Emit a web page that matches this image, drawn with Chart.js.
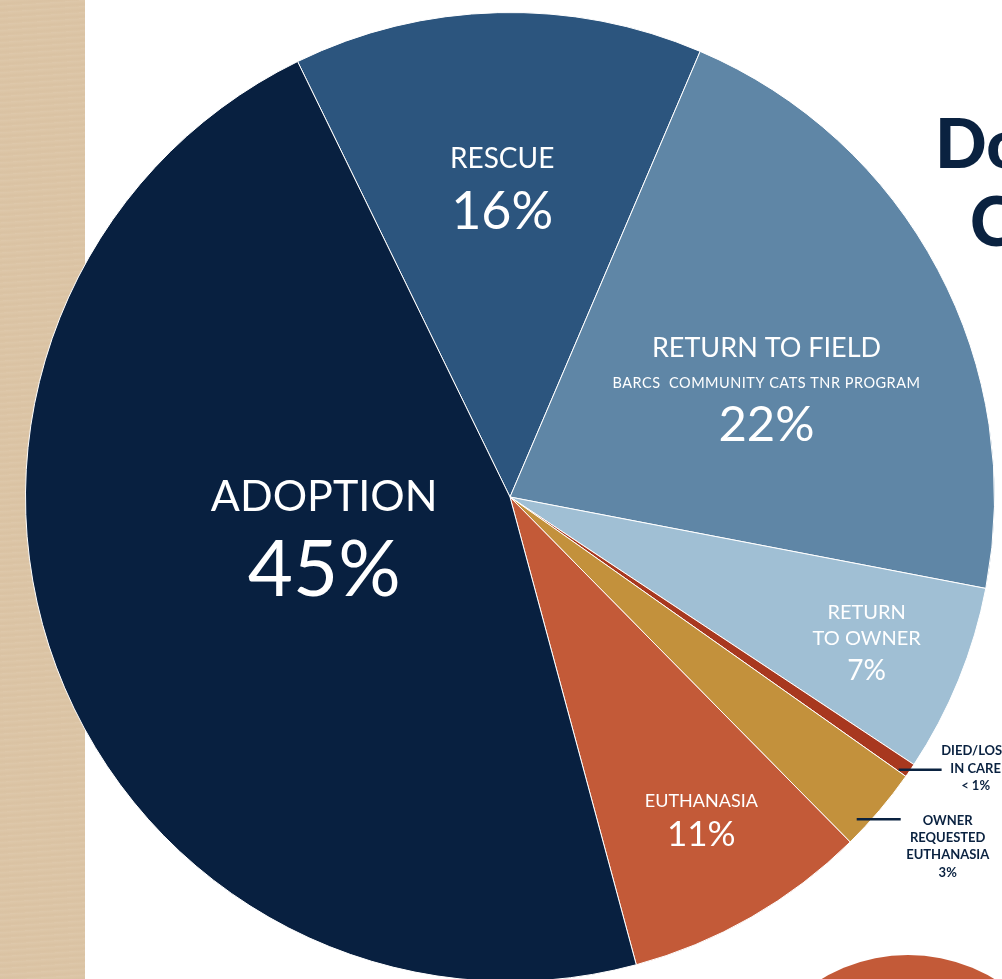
<!DOCTYPE html>
<html>
<head>
<meta charset="utf-8">
<script src="https://cdn.jsdelivr.net/npm/chart.js@4"></script>
<style>
  html, body { margin:0; padding:0; width:1002px; height:979px; overflow:hidden; background:#ffffff; }
  #wrap { position:absolute; left:0; top:0; width:1002px; height:1000px; }
  #board { position:absolute; left:0; top:0; width:85px; height:979px; background:#dcc5a6;
    background-image: repeating-linear-gradient(176deg, rgba(255,255,255,0.05) 0px, rgba(255,255,255,0.0) 2px, rgba(160,120,80,0.04) 4px, rgba(255,255,255,0.0) 6px); }
  .title { position:absolute; font-family:"Lato", sans-serif; font-weight:900; color:#0a2240; font-size:68px; line-height:1; white-space:nowrap; }
  #dot { position:absolute; left:740px; top:955px; width:336px; height:336px; border-radius:50%; background:#c35a38; }
</style>
</head>
<body>
<div id="board"></div>
<div class="title" style="left:935px; top:108px;">Domestic</div>
<div class="title" style="left:970px; top:186px;">Cat Outcomes</div>
<div id="dot"></div>
<div id="wrap"><canvas id="c" width="1002" height="1000"></canvas></div>
<script>
// Slice order is clockwise starting from the top-left RESCUE boundary
const categories = ["RESCUE", "RETURN TO FIELD", "RETURN TO OWNER", "DIED/LOST IN CARE", "OWNER REQUESTED EUTHANASIA", "EUTHANASIA", "ADOPTION"];
const values = [13.64, 21.60, 6.29, 0.47, 2.83, 8.19, 46.97];
const printedLabels = ["16%", "22%", "7%", "< 1%", "3%", "11%", "45%"];
const colors = ["#2c557e", "#5f86a6", "#a0bfd4", "#a8381f", "#c3913c", "#c35a38", "#082040"];

const labelPlugin = {
  id: 'sliceLabels',
  afterDatasetsDraw(chart) {
    const ctx = chart.ctx;
    const meta = chart.getDatasetMeta(0);
    const F = '"Lato", sans-serif';
    function pos(i, shiftDeg, frac) {
      const a = meta.data[i];
      const mid = (a.startAngle + a.endAngle) / 2 + shiftDeg * Math.PI / 180;
      return { x: a.x + Math.cos(mid) * a.outerRadius * frac, y: a.y + Math.sin(mid) * a.outerRadius * frac, a };
    }
    function txt(s, x, y, size, weight, color, spacing) {
      ctx.font = weight + ' ' + size + 'px ' + F;
      ctx.letterSpacing = (spacing || 0) + 'px';
      ctx.fillStyle = color;
      ctx.textAlign = 'center';
      ctx.textBaseline = 'middle';
      ctx.fillText(s, x, y);
      ctx.letterSpacing = '0px';
    }
    ctx.save();
    const W = '#ffffff';
    // RESCUE
    let p = pos(0, 0, 0.643);
    txt(categories[0], p.x, p.y - 27, 28, 'normal', W);
    txt(printedLabels[0], p.x, p.y + 27, 52, 'normal', W);
    // RETURN TO FIELD
    p = pos(1, 4.8, 0.576);
    txt(categories[1], p.x, p.y - 39, 27, 'normal', W);
    txt("BARCS  COMMUNITY CATS TNR PROGRAM", p.x, p.y - 4, 14.5, 'normal', W, 0.5);
    txt(printedLabels[1], p.x, p.y + 38, 49, 'normal', W);
    // RETURN TO OWNER
    p = pos(2, -0.2, 0.794);
    txt("RETURN", p.x, p.y - 29, 20, 'normal', W);
    txt("TO OWNER", p.x, p.y - 3, 20, 'normal', W);
    txt(printedLabels[2], p.x, p.y + 30, 28, 'normal', W);
    // EUTHANASIA
    p = pos(5, -1.0, 0.77);
    txt(categories[5], p.x, p.y - 16, 18, 'normal', W);
    txt(printedLabels[5], p.x, p.y + 17, 35, 'normal', W);
    // ADOPTION
    p = pos(6, 9.3, 0.391);
    txt(categories[6], p.x, p.y - 37, 43, 'normal', W);
    txt(printedLabels[6], p.x, p.y + 37, 78, 'normal', W);

    // outside labels with leader lines
    const N = '#0a2240';
    ctx.strokeStyle = N;
    ctx.lineWidth = 2.5;
    p = pos(3, 0.7, 0.98);
    ctx.beginPath(); ctx.moveTo(p.x, p.y); ctx.lineTo(p.x + 43, p.y); ctx.stroke();
    let cx = p.x + 77;
    txt("DIED/LOST", cx, p.y - 19, 13, 'bold', N);
    txt("IN CARE", cx, p.y - 1, 13, 'bold', N);
    txt(printedLabels[3], cx, p.y + 16, 13, 'bold', N);
    p = pos(4, 2.6, 0.977);
    ctx.beginPath(); ctx.moveTo(p.x, p.y); ctx.lineTo(p.x + 44, p.y); ctx.stroke();
    cx = p.x + 91;
    txt("OWNER", cx, p.y + 2, 13, 'bold', N);
    txt("REQUESTED", cx, p.y + 19, 13, 'bold', N);
    txt("EUTHANASIA", cx, p.y + 36, 13, 'bold', N);
    txt(printedLabels[4], cx, p.y + 54, 13, 'bold', N);
    ctx.restore();
  }
};

new Chart(document.getElementById('c'), {
  type: 'pie',
  data: {
    labels: categories,
    datasets: [{ data: values, backgroundColor: colors, borderColor: '#ffffff', borderWidth: 1, hoverOffset: 0 }]
  },
  options: {
    responsive: false,
    animation: false,
    rotation: -26,
    layout: { padding: { left: 25, right: 7, top: 12, bottom: 18 } },
    plugins: { legend: { display: false }, tooltip: { enabled: false } },
    events: []
  },
  plugins: [labelPlugin]
});
</script>
</body>
</html>
